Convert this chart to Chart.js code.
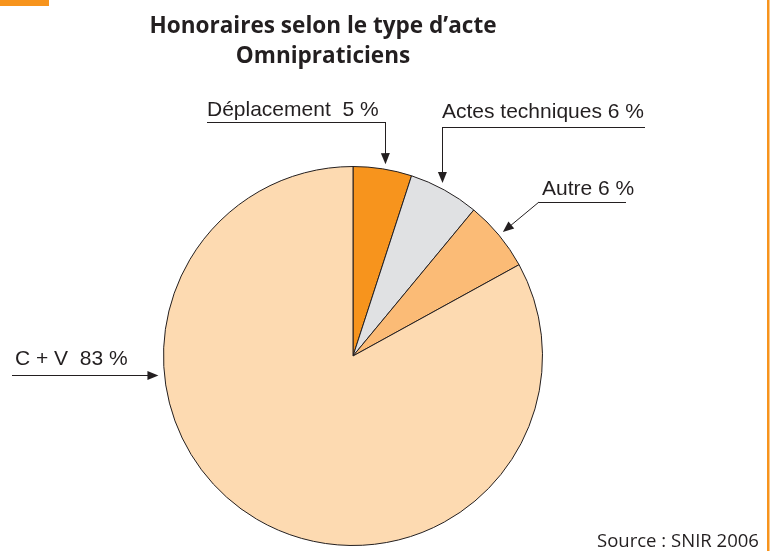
<!DOCTYPE html>
<html><head><meta charset="utf-8">
<script src="https://cdn.jsdelivr.net/npm/chart.js@4/dist/chart.umd.min.js"></script>
<style>html,body{margin:0;padding:0;background:#fff;overflow:hidden}#wrap{position:relative;width:774px;height:551px}</style>
</head><body><div id="wrap"><canvas id="c" width="774" height="551"></canvas></div>
<script>
const categories = ["Déplacement", "Actes techniques", "Autre", "C + V"];
const values = [5, 6, 6, 83];
const labelTexts = ["Déplacement  5 %", "Actes techniques 6 %", "Autre 6 %", "C + V  83 %"];
const colors = ["#F7941D", "#E0E1E3", "#FBBB76", "#FDDAB1"];
const titleLines = ["Honoraires selon le type d\u2019acte", "Omnipraticiens"];
const sourceText = "Source : SNIR 2006";

const INK = "#231F20";
// label anchors: text left/baseline, underline y & extent, leader style
const labelLayout = [
  {x: 207, y: 116, lineY: 122, x2: 385, kind: "down", leaderX: 385},
  {x: 442, y: 118, lineY: 127, x1: 442, x2: 645, kind: "down", leaderX: 442},
  {x: 542, y: 195, lineY: 202, x1: 539, x2: 626, kind: "diag"},
  {x: 15, y: 365, lineY: 375, x1: 12, kind: "left"}
];

function arrowHead(ctx, fx, fy, tx, ty) {
  const a = Math.atan2(ty - fy, tx - fx), L = 11, W = 4.5;
  ctx.beginPath();
  ctx.moveTo(tx, ty);
  ctx.lineTo(tx - L * Math.cos(a) + W * Math.sin(a), ty - L * Math.sin(a) - W * Math.cos(a));
  ctx.lineTo(tx - L * Math.cos(a) - W * Math.sin(a), ty - L * Math.sin(a) + W * Math.cos(a));
  ctx.closePath();
  ctx.fill();
}

const decor = {
  id: "decor",
  afterDraw(chart) {
    const ctx = chart.ctx;
    ctx.save();
    // frame accents
    ctx.fillStyle = "#F7941D";
    ctx.fillRect(0, 0, 49, 6);
    ctx.fillRect(767, 0, 2.5, 551);

    // title
    ctx.fillStyle = INK;
    ctx.textAlign = "center";
    ctx.textBaseline = "alphabetic";
    ctx.font = "bold 20px 'Open Sans'";
    const w = ctx.measureText(titleLines[0]).width;
    const fs = 20 * 347 / w;
    ctx.font = "bold " + fs.toFixed(2) + "px 'Open Sans'";
    ctx.fillText(titleLines[0], 323, 33);
    ctx.fillText(titleLines[1], 323, 63);

    // source
    ctx.textAlign = "left";
    ctx.font = "16px 'Open Sans'";
    const ws = ctx.measureText(sourceText).width;
    ctx.font = (16 * 162 / ws).toFixed(2) + "px 'Open Sans'";
    ctx.fillText(sourceText, 597, 547);

    // labels with leaders
    const meta = chart.getDatasetMeta(0);
    const arc0 = meta.data[0];
    const cx = arc0.x, cy = arc0.y, R = arc0.outerRadius + 5;
    ctx.font = "21px 'Liberation Sans'";
    ctx.strokeStyle = INK;
    ctx.lineWidth = 1;
    labelLayout.forEach((L, i) => {
      ctx.fillStyle = INK;
      ctx.fillText(labelTexts[i], L.x, L.y);
      ctx.beginPath();
      let fx, fy, tx, ty;
      if (L.kind === "down") {
        const x1 = L.x1 !== undefined ? L.x1 : L.x;
        ctx.moveTo(x1, L.lineY + 0.5);
        ctx.lineTo(L.x2, L.lineY + 0.5);
        fx = L.leaderX; fy = L.lineY;
        tx = fx; ty = cy - Math.sqrt(R * R - (tx - cx) * (tx - cx));
        ctx.moveTo(fx + 0.5, fy);
        ctx.lineTo(tx + 0.5, ty - 6);
      } else if (L.kind === "diag") {
        const arc = meta.data[i];
        const mid = (arc.startAngle + arc.endAngle) / 2;
        ctx.moveTo(L.x2, L.lineY + 0.5);
        ctx.lineTo(L.x1, L.lineY + 0.5);
        fx = L.x1; fy = L.lineY;
        tx = cx + R * Math.cos(mid); ty = cy + R * Math.sin(mid);
        ctx.moveTo(fx, fy);
        const a = Math.atan2(ty - fy, tx - fx);
        ctx.lineTo(tx - 6 * Math.cos(a), ty - 6 * Math.sin(a));
      } else {
        fx = L.x1; fy = L.lineY;
        ty = fy; tx = cx - Math.sqrt((R + 1) * (R + 1) - (ty - cy) * (ty - cy));
        ctx.moveTo(fx, fy + 0.5);
        ctx.lineTo(tx - 6, fy + 0.5);
      }
      ctx.stroke();
      ctx.fillStyle = INK;
      arrowHead(ctx, fx, fy + (L.kind === "left" ? 0.5 : 0), tx + (L.kind === "down" ? 0.5 : 0), ty + (L.kind === "left" ? 0.5 : 0));
    });
    ctx.restore();
  }
};

new Chart(document.getElementById("c"), {
  type: "pie",
  data: {
    labels: categories,
    datasets: [{
      data: values,
      backgroundColor: colors,
      borderColor: INK,
      borderWidth: 1,
      hoverOffset: 0
    }]
  },
  options: {
    responsive: false,
    animation: false,
    layout: {padding: {left: 163, right: 231, top: 166, bottom: 5}},
    plugins: {legend: {display: false}, tooltip: {enabled: false}, title: {display: false}}
  },
  plugins: [decor]
});
</script></body></html>
